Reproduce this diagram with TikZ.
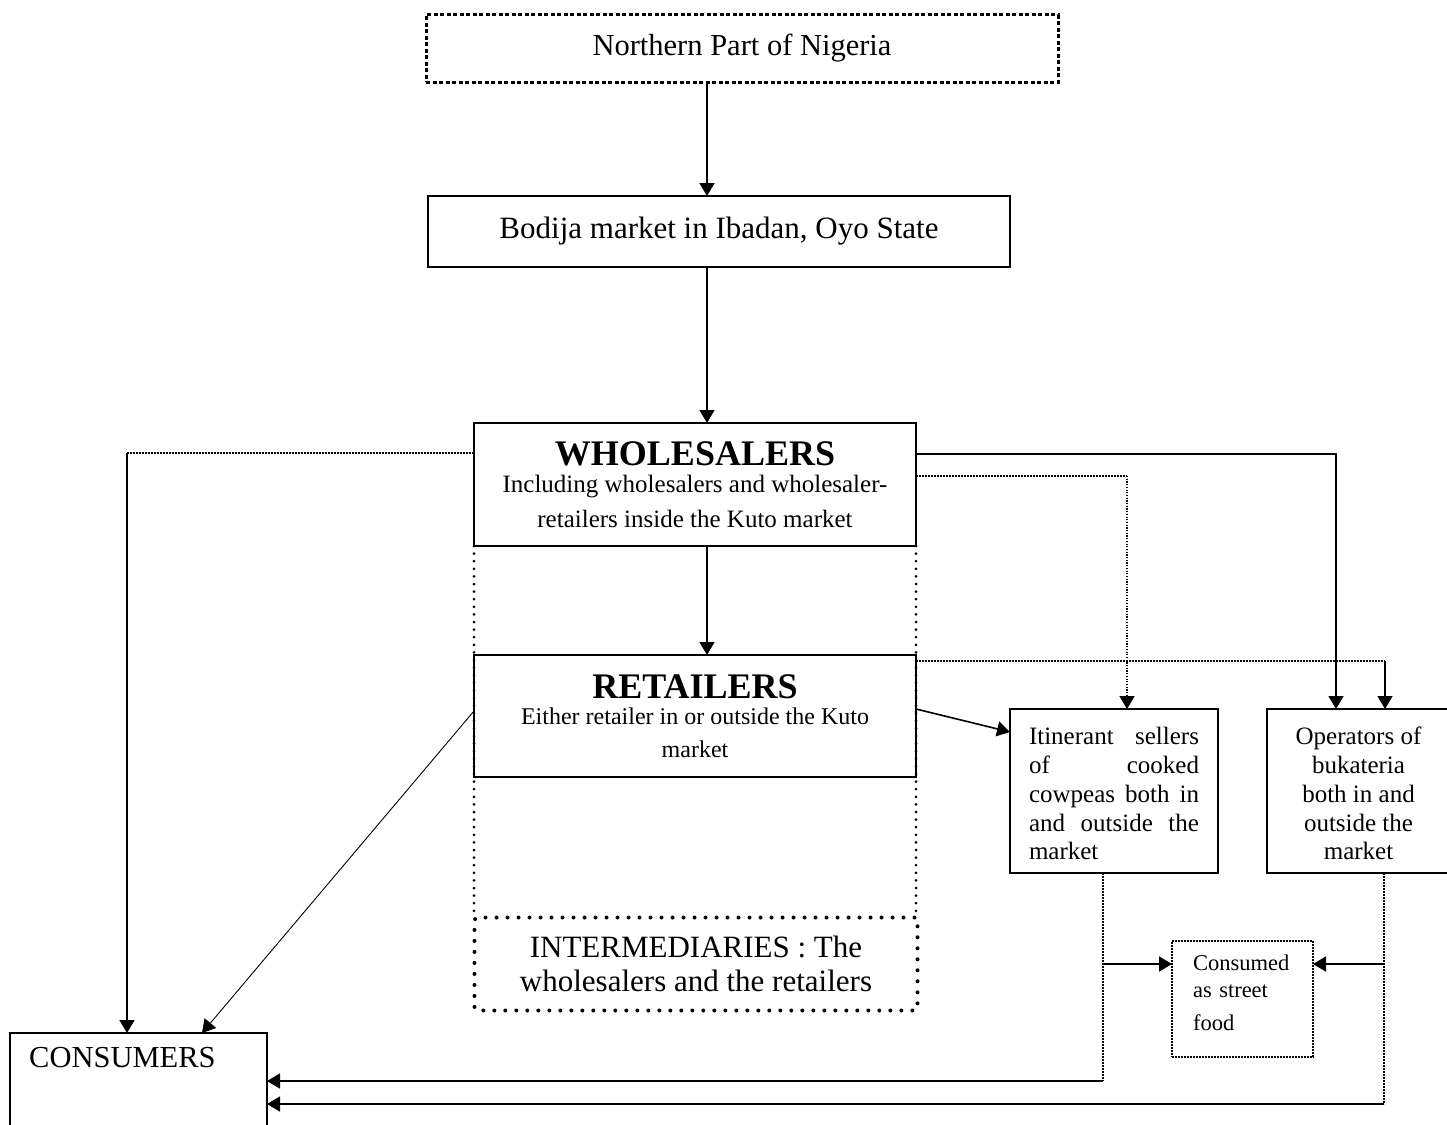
\documentclass[tikz,border=0pt]{standalone}
\usepackage{fontspec}
\setmainfont{Liberation Serif}
\usetikzlibrary{arrows.meta}
\begin{document}
\begin{tikzpicture}[x=1pt,y=-1pt,
  box/.style={draw, line width=1.6pt, inner sep=0pt, outer sep=0pt},
  arr/.style={line width=1.6pt, -{Triangle[width=15pt,length=13pt]}},
  thinarr/.style={line width=0.9pt, -{Triangle[width=15pt,length=13pt]}},
  fdash/.style={line width=1.4pt, dash pattern=on 2pt off 1pt},
  fdot/.style={line width=1.5pt, dash pattern=on 1.2pt off 1.5pt},
  bigdots/.style={line width=3pt, line cap=round, dash pattern=on 0pt off 7.6pt},
  hugedots/.style={line width=4pt, line cap=round, dash pattern=on 0pt off 11pt},
  thickdash/.style={line width=3pt, dash pattern=on 4pt off 2.5pt},
  txt/.style={font=\fontsize{25}{28.8}\selectfont}
]
\useasboundingbox (0,0) rectangle (1447,1124);

% boxes
\node[box, thickdash, minimum width=632pt, minimum height=67pt,
      font=\fontsize{30.5}{36}\selectfont] (north) at (742,48.5) {Northern Part of Nigeria};
\node[box, minimum width=582pt, minimum height=71pt,
      font=\fontsize{31}{36}\selectfont] (bodija) at (719,231.5) {Bodija market in Ibadan, Oyo State};
\node[box, minimum width=442pt, minimum height=123pt, align=center,
      font=\fontsize{25}{35}\selectfont] (whole) at (695,484.5)
      {{\fontsize{36}{36}\selectfont\bfseries WHOLESALERS}\\[-8pt]
       Including wholesalers and wholesaler-\\ retailers inside the Kuto market};
\node[box, minimum width=442pt, minimum height=122pt, align=center,
      font=\fontsize{24}{33}\selectfont] (retail) at (695,716)
      {{\fontsize{36}{36}\selectfont\bfseries RETAILERS}\\[-7pt]
       Either retailer in or outside the Kuto\\ market};
\node[box, hugedots, rounded corners=3pt, minimum width=443pt, minimum height=93pt, align=center,
      font=\fontsize{31}{34}\selectfont] (inter) at (696,964)
      {INTERMEDIARIES : The\\ wholesalers and the retailers};
\node[box, txt, minimum width=208pt, minimum height=164pt, align=left, text width=170pt] (itin) at (1114,791)
      {\makebox[170pt][s]{\rule{0pt}{23pt}Itinerant\hfill sellers}\\ \makebox[170pt][s]{of\hfill cooked}\\
       \makebox[170pt][s]{cowpeas\hfill both\hfill in}\\ \makebox[170pt][s]{and\hfill outside\hfill the}\\ market};
\node[box, txt, minimum width=183pt, minimum height=164pt, align=center] (oper) at (1358.5,791)
      {\rule{0pt}{23pt}Operators of\\ bukateria\\ both in and\\ outside the\\ market};
\node[box, line width=1.3pt, dash pattern=on 2pt off 1pt, minimum width=141pt, minimum height=116pt,
      align=left, text width=99pt, font=\fontsize{22.5}{26.5}\selectfont] (street) at (1242.5,999)
      {Consumed\\ as street\\[7pt] food\rule[-12pt]{0pt}{0pt}};
\node[box, anchor=north west, minimum width=257pt, minimum height=100pt,
      label={[anchor=base west, inner sep=0pt, xshift=19pt, yshift=-34.5pt,
              font=\fontsize{30.5}{36}\selectfont]north west:CONSUMERS}] (cons) at (10,1033) {};

% dotted enclosure sides
\draw[bigdots] (whole.south west) -- (whole.south west |- inter.north);
\draw[bigdots] (whole.south east) -- (whole.south east |- inter.north);

% main chain
\coordinate (xa) at (707,0);
\draw[arr] (xa |- north.south) -- (xa |- bodija.north);
\draw[arr] (xa |- bodija.south) -- (xa |- whole.north);
\draw[arr] (xa |- whole.south) -- (xa |- retail.north);

% wholesalers -> consumers
\coordinate (wl) at (127,453);
\draw[fdash] (wl -| whole.west) -- (wl);
\draw[arr] (wl) -- (wl |- cons.north);

% wholesalers -> operators
\coordinate (wr1) at (1336,454);
\draw[arr] (wr1 -| whole.east) -- (wr1) -- (wr1 |- oper.north);

% wholesalers -> itinerant
\coordinate (wr2) at (1127,476);
\draw[fdash] (wr2 -| whole.east) -- (wr2);
\draw[fdot, -{Triangle[width=15pt,length=13pt]}] (wr2) -- (wr2 |- itin.north);

% retailers -> operators
\coordinate (rr) at (1385,661);
\draw[fdash] (rr -| retail.east) -- (rr);
\draw[arr] (rr) -- (rr |- oper.north);

% retailers -> itinerant
\draw[arr] ([yshift=7pt]retail.east) -- ([yshift=59pt]itin.west);

% retailers -> consumers
\draw[thinarr] ([yshift=5pt]retail.west) -- ([xshift=63.5pt]cons.north);

% itinerant -> street food / consumers
\coordinate (ib) at (1103,1081);
\coordinate (ia) at (1103,964);
\draw[fdash] (ib |- itin.south) -- (ib);
\draw[arr] (ib) -- (ib -| cons.east);
\draw[arr] (ia) -- (ia -| street.west);

% operators -> street food / consumers
\coordinate (ob) at (1384,1104);
\coordinate (oa) at (1384,964);
\draw[fdash] (ob |- oper.south) -- (ob);
\draw[arr] (ob) -- (ob -| cons.east);
\draw[arr] (oa) -- (oa -| street.east);
\end{tikzpicture}
\end{document}
